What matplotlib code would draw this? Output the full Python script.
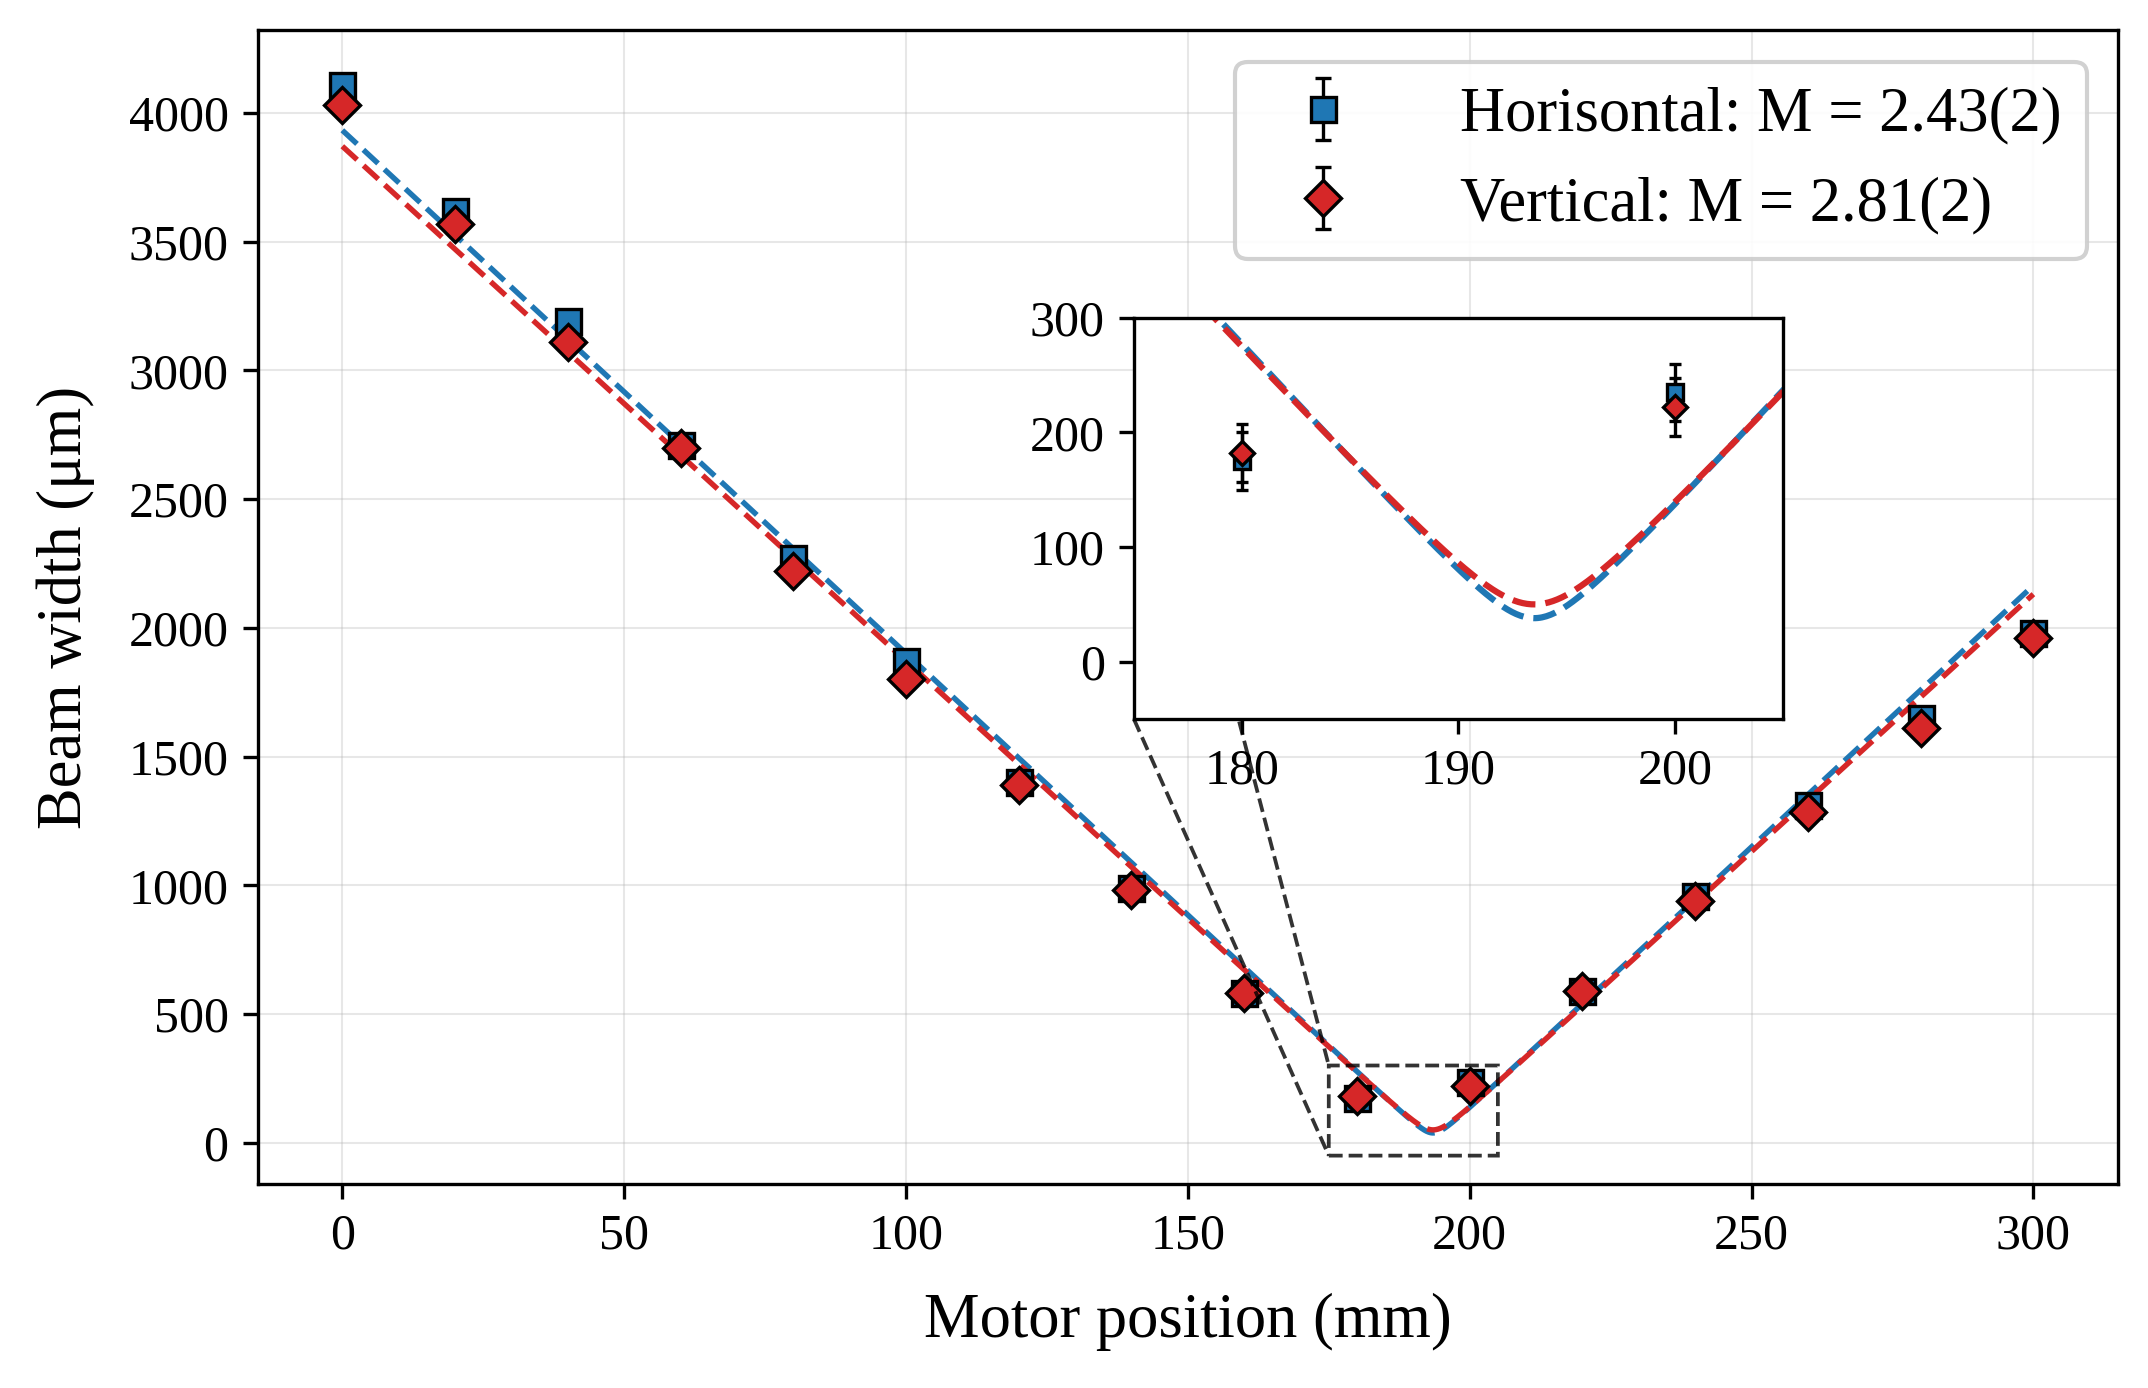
import numpy as np
import matplotlib
matplotlib.use("Agg")
import matplotlib.pyplot as plt

plt.rcParams['font.family'] = ['Liberation Serif', 'DejaVu Serif']
plt.rcParams['mathtext.fontset'] = 'stix'

pos = [0, 20, 40, 60, 80, 100, 120, 140, 160, 180, 200, 220, 240, 260, 280, 300]
horiz = [4110, 3620, 3190, 2710, 2270, 1870, 1400, 990, 580, 175, 235, 590, 960, 1310, 1650, 1980]
vert = [4030, 3570, 3110, 2700, 2220, 1800, 1390, 980, 580, 182, 222, 590, 940, 1285, 1610, 1960]
h_err = [25] * 16
v_err = [25] * 16
# fit parameters: waist w0, waist position z0, Rayleigh-like scale zr
h_fit = (38.0, 193.5, 1.87)
v_fit = (50.0, 193.5, 2.5)

def beam(z, w0, z0, zr):
    return w0 * np.sqrt(1 + ((z - z0) / zr) ** 2)

z = np.linspace(0, 300, 3000)
fig = plt.figure(figsize=(7.16, 4.627), dpi=300)
ax = fig.add_axes([0.12, 0.147, 0.866, 0.831])

def draw(a, ms, lw, cap):
    a.plot(z, beam(z, *h_fit), '--', color='#1f77b4', lw=lw)
    a.plot(z, beam(z, *v_fit), '--', color='#d62728', lw=lw)
    a.errorbar(pos, horiz, yerr=h_err, fmt='s', color='#1f77b4', mec='black', ecolor='black',
               ms=ms, capsize=cap, elinewidth=0.8, mew=0.8, label='Horisontal: M = 2.43(2)')
    a.errorbar(pos, vert, yerr=v_err, fmt='D', color='#d62728', mec='black', ecolor='black',
               ms=ms, capsize=cap, elinewidth=0.8, mew=0.8, label='Vertical: M = 2.81(2)')
    a.grid(True, alpha=0.3, lw=0.5)

draw(ax, 6, 1.3, 2)
ax.set_xlim(-15, 315)
ax.set_ylim(-160, 4320)
ax.set_xlabel('Motor position (mm)', fontsize=15, labelpad=8)
ax.set_ylabel('Beam width (μm)', fontsize=15, labelpad=8)
ax.tick_params(labelsize=12)
ax.set_axisbelow(True)
ax.legend(loc='upper right', fontsize=15, framealpha=0.9, handletextpad=1.2)

ins = ax.inset_axes([0.471, 0.403, 0.349, 0.348])
draw(ins, 4, 1.5, 1.5)
ins.set_xlim(175, 205)
ins.set_ylim(-50, 300)
ins.set_xticks([180, 190, 200])
ins.set_yticks([0, 100, 200, 300])
ins.tick_params(labelsize=12)
ins.grid(False)
ax.indicate_inset_zoom(ins, edgecolor='black', alpha=0.8, linestyle='--', lw=0.9)

fig.savefig('out.png', dpi=300)
